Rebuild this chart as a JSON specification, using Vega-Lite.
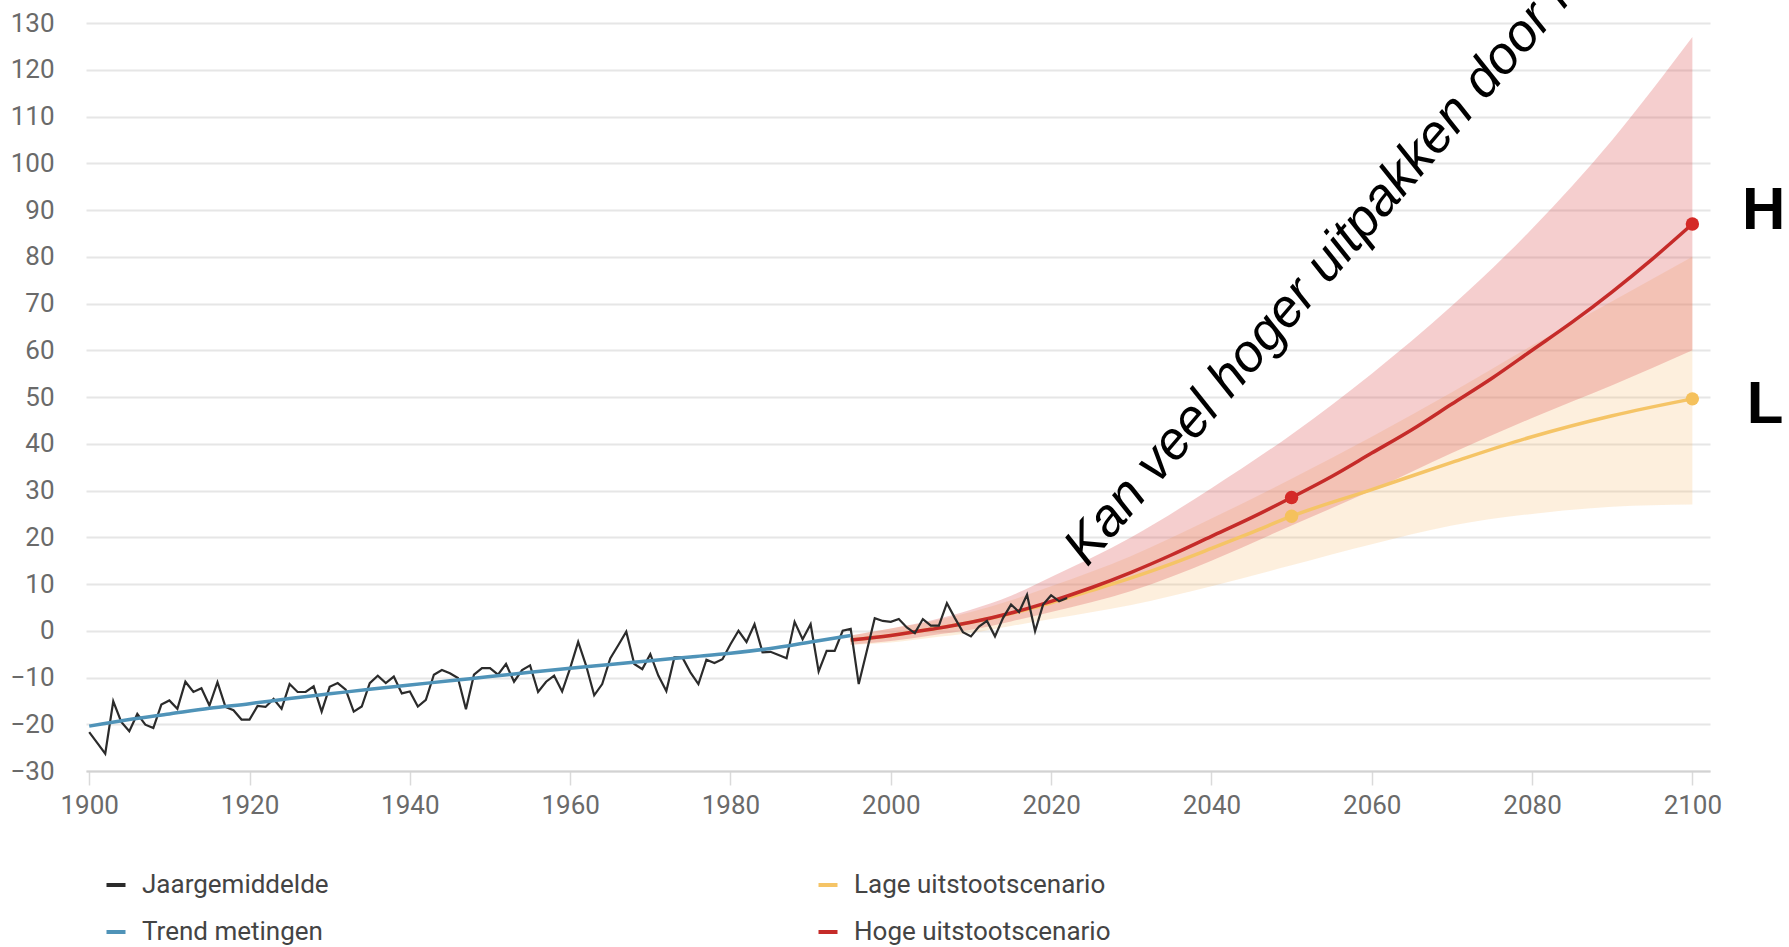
{
  "$schema": "https://vega.github.io/schema/vega-lite/v6.json",
  "width": 1624,
  "height": 748,
  "autosize": {"type": "none"},
  "padding": {"left": 86, "top": 23, "right": 79, "bottom": 176},
  "background": "white",
  "config": {"view": {"stroke": null}},
  "datasets": {
    "jaar": [
      {"year":1900,"value":-21.7},{"year":1901,"value":-24},{"year":1902,"value":-26.3},{"year":1903,"value":-15.1},{"year":1904,"value":-19.5},
      {"year":1905,"value":-21.5},{"year":1906,"value":-17.8},{"year":1907,"value":-20.1},{"year":1908,"value":-20.8},{"year":1909,"value":-15.8},
      {"year":1910,"value":-14.9},{"year":1911,"value":-16.7},{"year":1912,"value":-10.9},{"year":1913,"value":-13.1},{"year":1914,"value":-12.3},
      {"year":1915,"value":-16},{"year":1916,"value":-11},{"year":1917,"value":-16.3},{"year":1918,"value":-17},{"year":1919,"value":-19},
      {"year":1920,"value":-19},{"year":1921,"value":-16.1},{"year":1922,"value":-16.3},{"year":1923,"value":-14.6},{"year":1924,"value":-16.7},
      {"year":1925,"value":-11.4},{"year":1926,"value":-13.1},{"year":1927,"value":-13.1},{"year":1928,"value":-11.9},{"year":1929,"value":-17.3},
      {"year":1930,"value":-12},{"year":1931,"value":-11.2},{"year":1932,"value":-12.6},{"year":1933,"value":-17.3},{"year":1934,"value":-16.2},
      {"year":1935,"value":-11.2},{"year":1936,"value":-9.6},{"year":1937,"value":-11.2},{"year":1938,"value":-9.8},{"year":1939,"value":-13.4},
      {"year":1940,"value":-13},{"year":1941,"value":-16.2},{"year":1942,"value":-14.8},{"year":1943,"value":-9.4},{"year":1944,"value":-8.4},
      {"year":1945,"value":-9.1},{"year":1946,"value":-10.1},{"year":1947,"value":-16.8},{"year":1948,"value":-9.4},{"year":1949,"value":-8},
      {"year":1950,"value":-8},{"year":1951,"value":-9.4},{"year":1952,"value":-7.1},{"year":1953,"value":-10.9},{"year":1954,"value":-8.4},
      {"year":1955,"value":-7.4},{"year":1956,"value":-13.1},{"year":1957,"value":-10.9},{"year":1958,"value":-9.6},{"year":1959,"value":-13},
      {"year":1960,"value":-8},{"year":1961,"value":-2.4},{"year":1962,"value":-7.5},{"year":1963,"value":-13.8},{"year":1964,"value":-11.4},
      {"year":1965,"value":-5.9},{"year":1966,"value":-3.1},{"year":1967,"value":-0.2},{"year":1968,"value":-7.1},{"year":1969,"value":-8.2},
      {"year":1970,"value":-5},{"year":1971,"value":-9.6},{"year":1972,"value":-12.9},{"year":1973,"value":-5.7},{"year":1974,"value":-5.7},
      {"year":1975,"value":-8.9},{"year":1976,"value":-11.4},{"year":1977,"value":-6.2},{"year":1978,"value":-6.9},{"year":1979,"value":-6.1},
      {"year":1980,"value":-2.9},{"year":1981,"value":0},{"year":1982,"value":-2.4},{"year":1983,"value":1.4},{"year":1984,"value":-4.6},
      {"year":1985,"value":-4.5},{"year":1986,"value":-5.2},{"year":1987,"value":-5.9},{"year":1988,"value":1.9},{"year":1989,"value":-1.8},
      {"year":1990,"value":1.4},{"year":1991,"value":-8.7},{"year":1992,"value":-4.3},{"year":1993,"value":-4.3},{"year":1994,"value":0},
      {"year":1995,"value":0.4},{"year":1996,"value":-11.4},{"year":1997,"value":-4.4},{"year":1998,"value":2.7},{"year":1999,"value":2.1},
      {"year":2000,"value":1.9},{"year":2001,"value":2.5},{"year":2002,"value":0.7},{"year":2003,"value":-0.5},{"year":2004,"value":2.5},
      {"year":2005,"value":1.1},{"year":2006,"value":1.1},{"year":2007,"value":5.9},{"year":2008,"value":2.7},{"year":2009,"value":-0.3},
      {"year":2010,"value":-1.2},{"year":2011,"value":0.9},{"year":2012,"value":2.1},{"year":2013,"value":-1.2},{"year":2014,"value":2.7},
      {"year":2015,"value":5.6},{"year":2016,"value":4},{"year":2017,"value":7.7},{"year":2018,"value":-0.1},{"year":2019,"value":5.6},
      {"year":2020,"value":7.6},{"year":2021,"value":6.3},{"year":2022,"value":7.0}
    ],
    "trend": [
      {"year":1900,"value":-20.4},{"year":1905,"value":-19},{"year":1910,"value":-17.8},{"year":1915,"value":-16.6},{"year":1920,"value":-15.6},
      {"year":1925,"value":-14.5},{"year":1930,"value":-13.5},{"year":1935,"value":-12.5},{"year":1940,"value":-11.6},{"year":1945,"value":-10.7},
      {"year":1950,"value":-9.8},{"year":1955,"value":-8.9},{"year":1960,"value":-8.0},{"year":1965,"value":-7.2},{"year":1970,"value":-6.4},
      {"year":1975,"value":-5.6},{"year":1980,"value":-4.8},{"year":1985,"value":-3.8},{"year":1990,"value":-2.4},{"year":1995,"value":-1.0}
    ],
    "hoog": [
      {"year":1995,"value":-2},{"year":2000,"value":-1},{"year":2005,"value":0.3},{"year":2010,"value":1.8},{"year":2015,"value":3.8},
      {"year":2020,"value":6.3},{"year":2025,"value":9.2},{"year":2030,"value":12.5},{"year":2035,"value":16.2},{"year":2040,"value":20.2},
      {"year":2045,"value":24.2},{"year":2050,"value":28.5},{"year":2055,"value":33},{"year":2060,"value":38},{"year":2065,"value":43},
      {"year":2070,"value":48.5},{"year":2075,"value":54},{"year":2080,"value":60},{"year":2085,"value":66},{"year":2090,"value":72.5},
      {"year":2095,"value":79.5},{"year":2100,"value":87}
    ],
    "laag": [
      {"year":1995,"value":-2},{"year":2000,"value":-1},{"year":2005,"value":0.3},{"year":2010,"value":1.8},{"year":2015,"value":3.7},
      {"year":2020,"value":6},{"year":2025,"value":8.6},{"year":2030,"value":11.3},{"year":2035,"value":14.3},{"year":2040,"value":17.6},
      {"year":2045,"value":21},{"year":2050,"value":24.5},{"year":2060,"value":30.2},{"year":2070,"value":36},{"year":2080,"value":41.5},
      {"year":2090,"value":46},{"year":2100,"value":49.6}
    ],
    "bandLaag": [
      {"year":1995,"lo":-3,"hi":-1},{"year":2000,"lo":-2.5,"hi":0.5},{"year":2005,"lo":-1.5,"hi":2},{"year":2010,"lo":-0.5,"hi":4},
      {"year":2015,"lo":1,"hi":6.5},{"year":2020,"lo":2.5,"hi":9.5},{"year":2030,"lo":5.5,"hi":16},{"year":2040,"lo":9.5,"hi":24},
      {"year":2050,"lo":14,"hi":32.5},{"year":2060,"lo":18.5,"hi":41.5},{"year":2070,"lo":22.5,"hi":51},{"year":2080,"lo":25,"hi":61},
      {"year":2090,"lo":26.5,"hi":70.5},{"year":2100,"lo":27,"hi":80}
    ],
    "bandHoog": [
      {"year":1995,"lo":-3,"hi":-1},{"year":2000,"lo":-2.2,"hi":0.5},{"year":2005,"lo":-1,"hi":2.2},{"year":2010,"lo":0.2,"hi":4.5},
      {"year":2015,"lo":2,"hi":7.5},{"year":2020,"lo":4,"hi":11.5},{"year":2030,"lo":8.5,"hi":20},{"year":2040,"lo":15,"hi":30.5},
      {"year":2050,"lo":22.5,"hi":42},{"year":2060,"lo":30,"hi":55},{"year":2070,"lo":38,"hi":69.5},{"year":2080,"lo":45.5,"hi":86},
      {"year":2090,"lo":52.5,"hi":105},{"year":2100,"lo":60,"hi":127}
    ],
    "dotsLaag": [{"year":2050,"value":24.5},{"year":2100,"value":49.6}],
    "dotsHoog": [{"year":2050,"value":28.5},{"year":2100,"value":87}],
    "annot": [{"year":2024.5,"value":13.5,"label":"Kan veel hoger uitpakken door instabiliteit van de ijskappen"}],
    "letters": [{"year":2106.2,"value":89.8,"label":"H"},{"year":2106.8,"value":48.3,"label":"L"}]
  },
  "encoding": {
    "x": {
      "field": "year", "type": "quantitative",
      "scale": {"domain": [1899.6, 2102.2], "nice": false, "zero": false},
      "axis": {
        "title": null, "values": [1900,1920,1940,1960,1980,2000,2020,2040,2060,2080,2100], "format": "d",
        "grid": false, "domain": true, "domainColor": "#d2d2d2", "domainWidth": 2,
        "ticks": true, "tickColor": "#dadada", "tickSize": 14, "tickWidth": 1.5,
        "labelFont": "Roboto", "labelFontSize": 26, "labelColor": "#6a6a6a", "labelPadding": 7
      }
    },
    "y": {
      "field": "value", "type": "quantitative",
      "scale": {"domain": [-30, 130], "nice": false, "zero": false},
      "axis": {
        "title": null, "values": [-30,-20,-10,0,10,20,30,40,50,60,70,80,90,100,110,120,130], "format": "d",
        "grid": true, "gridColor": "#e6e6e6", "gridWidth": 2, "domain": false, "ticks": false,
        "labelFont": "Roboto", "labelFontSize": 26, "labelColor": "#6a6a6a", "labelPadding": 32
      }
    }
  },
  "layer": [
    {
      "data": {"name": "bandLaag"},
      "mark": {"type": "area", "interpolate": "monotone", "color": "#f5b862", "opacity": 0.22},
      "encoding": {
        "y": {"field": "lo", "type": "quantitative", "scale": {"domain": [-30, 130], "nice": false, "zero": false}},
        "y2": {"field": "hi"}
      }
    },
    {
      "data": {"name": "bandHoog"},
      "mark": {"type": "area", "interpolate": "monotone", "color": "#dc5050", "opacity": 0.28},
      "encoding": {
        "y": {"field": "lo", "type": "quantitative", "scale": {"domain": [-30, 130], "nice": false, "zero": false}},
        "y2": {"field": "hi"}
      }
    },
    {
      "data": {"name": "laag"},
      "mark": {"type": "line", "interpolate": "monotone", "strokeWidth": 3.5},
      "encoding": {
        "color": {"datum": "Lage uitstootscenario", "type": "nominal",
          "scale": {"domain": ["Jaargemiddelde", "Trend metingen", "Lage uitstootscenario", "Hoge uitstootscenario"], "range": ["#2b2b2b", "#4f93b8", "#f5c466", "#c52b29"]},
          "legend": {"title": null, "orient": "none", "legendX": 17, "legendY": 849, "columns": 2, "columnPadding": 481, "rowPadding": 21,
            "padding": 0, "symbolType": "stroke", "symbolSize": 361, "symbolStrokeWidth": 4, "labelOffset": 13, "labelLimit": 500,
            "labelFont": "Roboto", "labelFontSize": 26, "labelColor": "#444444"}
        }
      }
    },
    {
      "data": {"name": "hoog"},
      "mark": {"type": "line", "interpolate": "monotone", "strokeWidth": 3.5},
      "encoding": {"color": {"datum": "Hoge uitstootscenario", "type": "nominal"}}
    },
    {
      "data": {"name": "jaar"},
      "mark": {"type": "line", "strokeWidth": 2.2},
      "encoding": {"color": {"datum": "Jaargemiddelde", "type": "nominal"}}
    },
    {
      "data": {"name": "trend"},
      "mark": {"type": "line", "interpolate": "monotone", "strokeWidth": 3.5},
      "encoding": {"color": {"datum": "Trend metingen", "type": "nominal"}}
    },
    {
      "data": {"name": "dotsLaag"},
      "mark": {"type": "point", "filled": true, "size": 180, "color": "#f5c15c", "opacity": 1},
      "encoding": {}
    },
    {
      "data": {"name": "dotsHoog"},
      "mark": {"type": "point", "filled": true, "size": 180, "color": "#d42a27", "opacity": 1},
      "encoding": {}
    },
    {
      "data": {"name": "annot"},
      "mark": {"type": "text", "align": "left", "baseline": "alphabetic", "angle": 310.5, "font": "Liberation Sans, Arial, sans-serif", "fontStyle": "italic", "fontSize": 53, "color": "#000000"},
      "encoding": {"text": {"field": "label"}}
    },
    {
      "data": {"name": "letters"},
      "mark": {"type": "text", "align": "left", "baseline": "middle", "font": "Liberation Sans, Arial, sans-serif", "fontWeight": "bold", "fontSize": 60, "color": "#000000"},
      "encoding": {"text": {"field": "label"}}
    }
  ]
}
